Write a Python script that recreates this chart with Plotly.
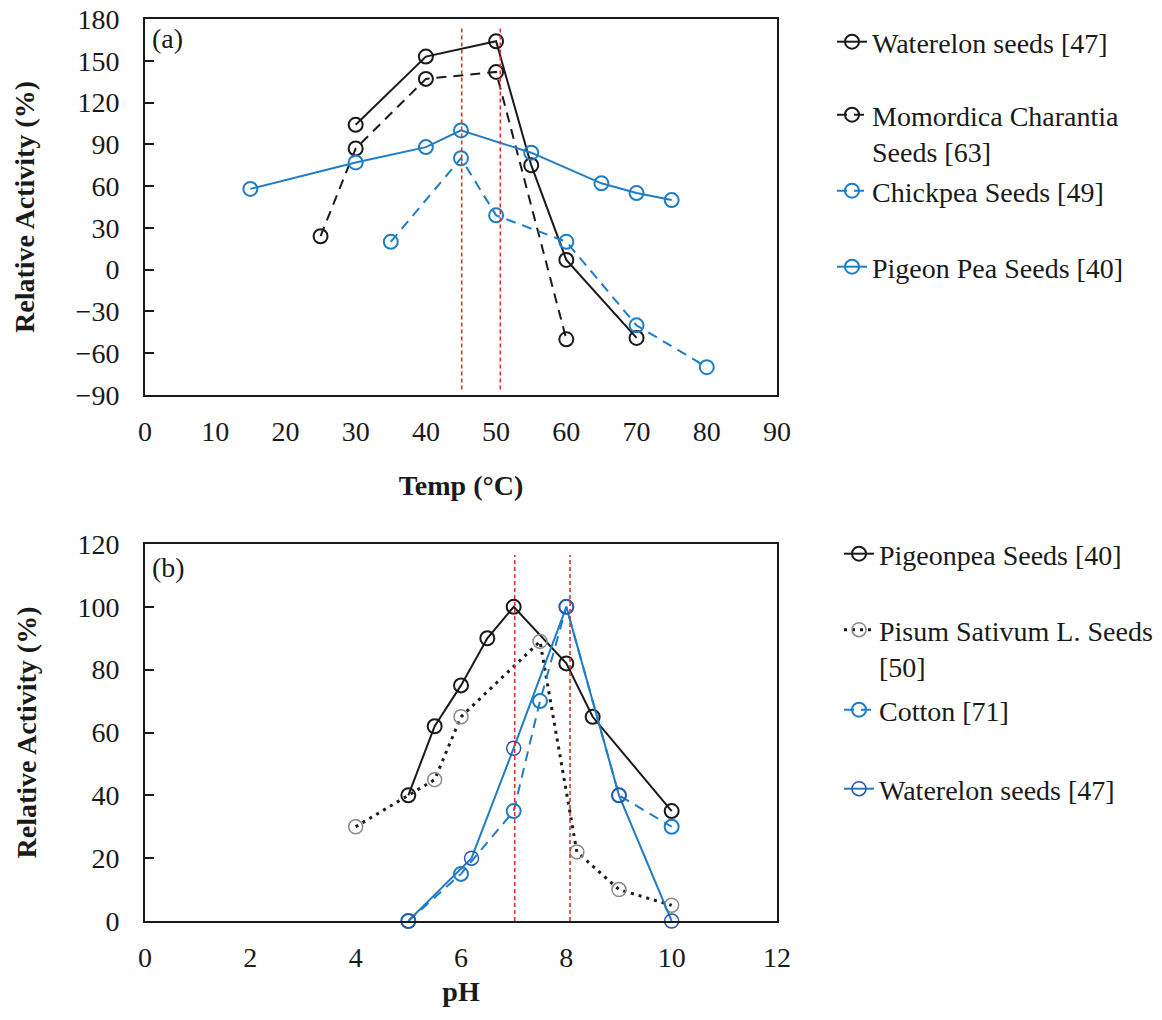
import plotly.graph_objects as go

# ---------------- Data: panel (a) temperature ----------------
wat_temp = [30, 40, 50, 55, 60, 70]
wat_temp_act = [104, 153, 164, 75, 7, -49]
mom_temp = [25, 30, 40, 50, 60]
mom_temp_act = [24, 87, 137, 142, -50]
chick_temp = [35, 45, 50, 60, 70, 80]
chick_temp_act = [20, 80, 39, 20, -40, -70]
pig_temp = [15, 30, 40, 45, 55, 65, 70, 75]
pig_temp_act = [58, 77, 88, 100, 84, 62, 55, 50]
opt_temp_lines = [45.1, 50.6]

# ---------------- Data: panel (b) pH ----------------
pp_ph = [5, 5.5, 6, 6.5, 7, 8, 8.5, 10]
pp_ph_act = [40, 62, 75, 90, 100, 82, 65, 35]
pis_ph = [4, 5.5, 6, 7.5, 8.2, 9, 10]
pis_ph_act = [30, 45, 65, 89, 22, 10, 5]
cot_ph = [5, 6, 7, 7.5, 8, 9, 10]
cot_ph_act = [0, 15, 35, 70, 100, 40, 30]
wat_ph = [5, 6.2, 7, 8, 9, 10]
wat_ph_act = [0, 20, 55, 100, 40, 0]
opt_ph_lines = [7.02, 8.07]

# ---------------- Style ----------------
FONT = "Liberation Serif"
BLACK = "#1a1a1a"
BLUE = "#1F7DC6"
RED = "#E0302C"
W, H = 1162, 1020
L, R, T, B = 145, 777, 19, 921


def py(v):
    return (B - v) / (B - T)


def px(v):
    return (v - L) / (R - L)


fig = go.Figure()


def add(x, y, name, color, dash, mcolor, mwidth, xa, ya, leg, lw=2):
    fig.add_trace(go.Scatter(
        x=x, y=y, name=name, mode="lines+markers",
        line=dict(color=color, width=lw, dash=dash),
        marker=dict(symbol="circle-open", size=14, color=mcolor,
                    line=dict(width=mwidth, color=mcolor)),
        xaxis=xa, yaxis=ya, legend=leg, cliponaxis=False))


# panel (a)
add(wat_temp, wat_temp_act, "Waterelon seeds [47]", BLACK, "solid", BLACK, 2, "x", "y", "legend")
add(mom_temp, mom_temp_act, "Momordica Charantia<br>Seeds [63]", BLACK, "10px,7px", BLACK, 2, "x", "y", "legend2")
add(chick_temp, chick_temp_act, "Chickpea Seeds [49]", BLUE, "10px,7px", BLUE, 2, "x", "y", "legend3")
add(pig_temp, pig_temp_act, "Pigeon Pea Seeds [40]", BLUE, "solid", BLUE, 2, "x", "y", "legend4")

# panel (b)
add(pp_ph, pp_ph_act, "Pigeonpea Seeds [40]", BLACK, "solid", BLACK, 2, "x2", "y2", "legend5")
add(pis_ph, pis_ph_act, "Pisum Sativum L. Seeds<br>[50]", BLACK, "3px,5px", "#8a8a8a", 1.5, "x2", "y2", "legend6", lw=3)
add(cot_ph, cot_ph_act, "Cotton [71]", BLUE, "10px,7px", BLUE, 2, "x2", "y2", "legend7")
add(wat_ph, wat_ph_act, "Waterelon seeds [47]", BLUE, "solid", "#2B55A8", 1.5, "x2", "y2", "legend8")

shapes = []
for v in opt_temp_lines:
    shapes.append(dict(type="line", xref="x", yref="y", x0=v, x1=v, y0=-86, y1=175,
                       line=dict(color=RED, width=1.6, dash="4px,3px")))
for v in opt_ph_lines:
    shapes.append(dict(type="line", xref="x2", yref="y2", x0=v, x1=v, y0=0, y1=116.5,
                       line=dict(color=RED, width=1.6, dash="4px,3px")))

tickfont = dict(family=FONT, size=28, color=BLACK)
titlefont = dict(family=FONT, size=28, color=BLACK, weight="bold")

xcommon = dict(showgrid=False, zeroline=False, showline=True, linecolor=BLACK, linewidth=2,
               mirror=True, ticks="", tickfont=tickfont, ticklabelstandoff=10)
ycommon = dict(showgrid=False, zeroline=False, showline=True, linecolor=BLACK, linewidth=2,
               mirror=True, ticks="inside", ticklen=9, tickwidth=1.5, tickcolor=BLACK,
               tickfont=tickfont, ticklabelstandoff=18)

legend_common = dict(font=dict(family=FONT, size=28, color=BLACK), bgcolor="rgba(0,0,0,0)",
                     xanchor="left", yanchor="middle", valign="top", borderwidth=0)

leg_x_a = px(832)
leg_x_b = px(839)
legends = {
    "legend": dict(x=leg_x_a, y=py(42)),
    "legend2": dict(x=leg_x_a, y=py(133)),
    "legend3": dict(x=leg_x_a, y=py(191)),
    "legend4": dict(x=leg_x_a, y=py(267)),
    "legend5": dict(x=leg_x_b, y=py(554)),
    "legend6": dict(x=leg_x_b, y=py(648)),
    "legend7": dict(x=leg_x_b, y=py(710)),
    "legend8": dict(x=leg_x_b, y=py(789)),
}
for k, v in legends.items():
    legends[k] = {**legend_common, **v}

fig.update_layout(
    width=W, height=H,
    margin=dict(l=L, r=W - R, t=T, b=H - B, autoexpand=False),
    paper_bgcolor="white", plot_bgcolor="white",
    showlegend=True,
    xaxis=dict(**xcommon, range=[0, 90], dtick=10, tick0=0, anchor="y",
               title=dict(text="Temp (°C)", font=titlefont, standoff=30)),
    yaxis=dict(**ycommon, range=[-90, 180], dtick=30, tick0=0, anchor="x",
               domain=[py(395), 1],
               title=dict(text="Relative Activity (%)", font=titlefont, standoff=33)),
    xaxis2=dict(**xcommon, range=[0, 12], dtick=2, tick0=0, anchor="y2",
                title=dict(text="pH", font=titlefont, standoff=10)),
    yaxis2=dict(**ycommon, range=[0, 120], dtick=20, tick0=0, anchor="x2",
                domain=[0, py(544)],
                title=dict(text="Relative Activity (%)", font=titlefont, standoff=33)),
    shapes=shapes,
    annotations=[
        dict(text="(a)", xref="x domain", yref="y domain", x=0.008, y=0.995,
             xanchor="left", yanchor="top", showarrow=False,
             font=dict(family=FONT, size=28, color=BLACK)),
        dict(text="(b)", xref="x2 domain", yref="y2 domain", x=0.008, y=0.985,
             xanchor="left", yanchor="top", showarrow=False,
             font=dict(family=FONT, size=28, color=BLACK)),
    ],
    **legends,
)

fig.write_html("out.html")
